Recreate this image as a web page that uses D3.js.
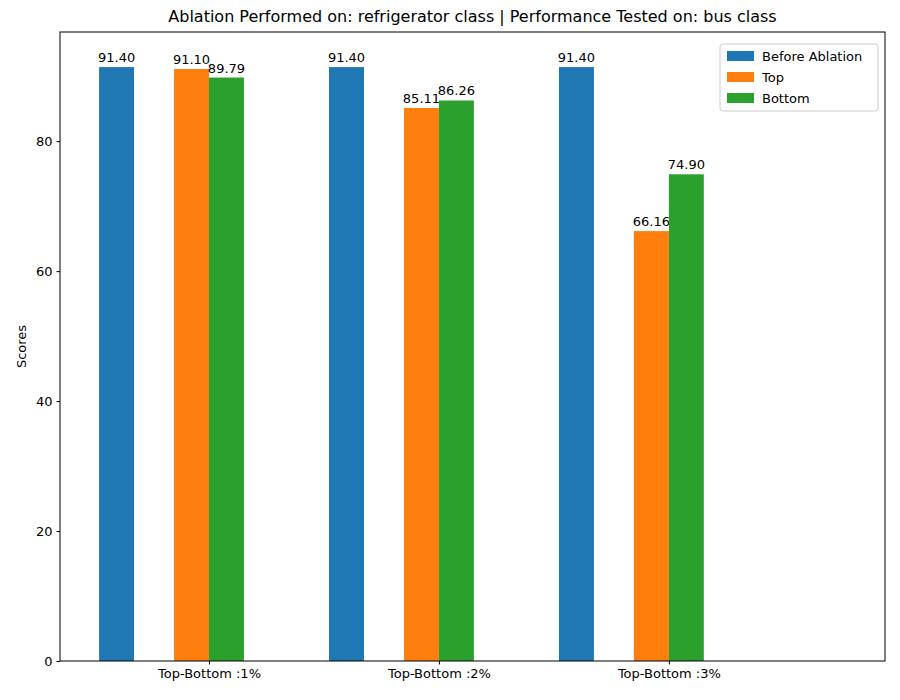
<!DOCTYPE html>
<html lang="en">
<head>
  <meta charset="UTF-8">
  <title>Ablation bars</title>
  <style>
    body { margin: 0; background: #fff; }
    text { font-family: "DejaVu Sans", sans-serif; }
  </style>
</head>
<body>
  <div id="chart"></div>
  <script src="https://d3js.org/d3.v7.min.js"></script>
  <script>
    const width = 900
    const height = 700
    const margin = { top: 32, right: 15, bottom: 39, left: 60 }

    const categories = ['Top-Bottom :1%', 'Top-Bottom :2%', 'Top-Bottom :3%']
    const beforeValues = [91.40, 91.40, 91.40]
    const topValues = [91.10, 85.11, 66.16]
    const bottomValues = [89.79, 86.26, 74.90]
    const seriesNames = ['Before Ablation', 'Top', 'Bottom']
    const colors = ['#1f77b4', '#ff7f0e', '#2ca02c']
    const yTicks = [0, 20, 40, 60, 80]

    const barW = 0.152
    // bar left offsets relative to group index (in group units)
    const offsets = [-0.478, -barW, 0]
    const series = [beforeValues, topValues, bottomValues]

    const svg = d3.select('#chart').append('svg')
      .attr('width', width)
      .attr('height', height)

    const x = d3.scaleLinear().domain([-0.648, 2.94])
      .range([margin.left, width - margin.right])
    const y = d3.scaleLinear().domain([0, 96.8])
      .range([height - margin.bottom, margin.top])

    const g = svg.append('g')

    series.forEach((vals, s) => {
      g.selectAll('.b' + s).data(vals).enter().append('rect')
        .attr('x', (d, i) => x(i + offsets[s]))
        .attr('width', x(barW) - x(0))
        .attr('y', d => y(d))
        .attr('height', d => y(0) - y(d))
        .attr('fill', colors[s])
      g.selectAll('.t' + s).data(vals).enter().append('text')
        .attr('x', (d, i) => x(i + offsets[s] + barW / 2))
        .attr('y', d => y(d) - 5)
        .attr('text-anchor', 'middle')
        .attr('font-size', 13)
        .text(d => d.toFixed(2))
    })

    // axes
    const yAxis = svg.append('g')
      .attr('transform', `translate(${margin.left},0)`)
      .call(d3.axisLeft(y).tickValues(yTicks).tickSize(3.5).tickPadding(4))
    const xAxis = svg.append('g')
      .attr('transform', `translate(0,${height - margin.bottom})`)
      .call(d3.axisBottom(x).tickValues([0, 1, 2]).tickFormat(i => categories[i]).tickSize(3.5).tickPadding(4))
    ;[xAxis, yAxis].forEach(a => {
      a.selectAll('text').attr('font-size', 13).attr('fill', '#000')
        .style('font-family', '"DejaVu Sans", sans-serif')
      a.select('.domain').remove()
    })

    svg.append('rect')
      .attr('x', margin.left).attr('y', margin.top)
      .attr('width', width - margin.left - margin.right)
      .attr('height', height - margin.top - margin.bottom)
      .attr('fill', 'none').attr('stroke', '#000')

    svg.append('text')
      .attr('x', (margin.left + width - margin.right) / 2)
      .attr('y', 22)
      .attr('text-anchor', 'middle')
      .attr('font-size', 16)
      .text('Ablation Performed on: refrigerator class | Performance Tested on: bus class')

    svg.append('text')
      .attr('transform', `translate(26,${(margin.top + height - margin.bottom) / 2}) rotate(-90)`)
      .attr('text-anchor', 'middle')
      .attr('font-size', 13)
      .text('Scores')

    // legend
    const lg = svg.append('g').attr('transform', 'translate(720,44)')
    lg.append('rect').attr('width', 158).attr('height', 67)
      .attr('fill', '#fff').attr('stroke', '#ccc').attr('rx', 3)
    seriesNames.forEach((n, i) => {
      lg.append('rect').attr('x', 7).attr('y', 7 + i * 21)
        .attr('width', 27).attr('height', 10).attr('fill', colors[i])
      lg.append('text').attr('x', 42).attr('y', 17 + i * 21)
        .attr('font-size', 13).text(n)
    })
  </script>
</body>
</html>
